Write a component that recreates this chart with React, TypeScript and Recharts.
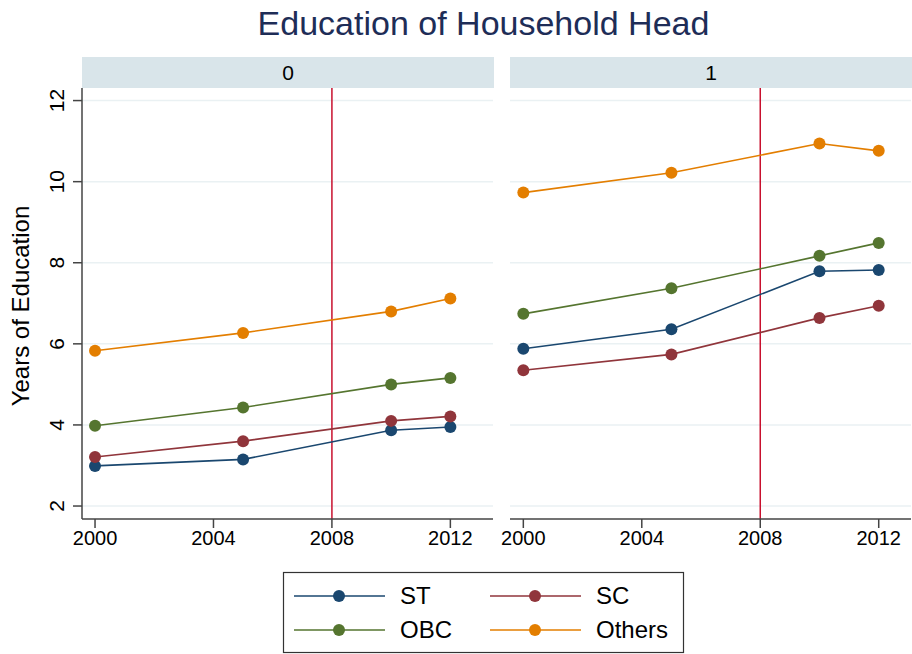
import React from 'react';
import { LineChart, Line, XAxis, YAxis, ReferenceLine } from 'recharts';

// years surveyed, and mean years of education by caste group
const years = [2000, 2005, 2010, 2012];
const seriesNames = ['ST', 'SC', 'OBC', 'Others'];
const seriesColors = ['#1a476f', '#90353b', '#55752f', '#e37e00'];

// panel "0"
const st0 = [2.99, 3.15, 3.87, 3.95];
const sc0 = [3.21, 3.6, 4.1, 4.21];
const obc0 = [3.98, 4.43, 5.0, 5.16];
const others0 = [5.83, 6.27, 6.8, 7.12];

// panel "1"
const st1 = [5.88, 6.36, 7.79, 7.82];
const sc1 = [5.35, 5.74, 6.64, 6.94];
const obc1 = [6.74, 7.37, 8.17, 8.49];
const others1 = [9.73, 10.22, 10.94, 10.76];

const panelLabels = ['0', '1'];
const xTicks = [2000, 2004, 2008, 2012];
const yTicks = [2, 4, 6, 8, 10, 12];
const policyYear = 2008;

const FONT = '"Liberation Sans", Arial, Helvetica, sans-serif';
const AXIS = '#444444';
const GRID = '#eaf1f3';
const HEADER = '#d9e5ea';

const buildRows = (cols: number[][]) =>
  years.map((year, i) => {
    const row: any = { year };
    seriesNames.forEach((name, s) => {
      row[name] = cols[s][i];
    });
    return row;
  });

// each panel's svg starts a bit left of its plot so tick labels are not clipped
const panels = [
  {
    label: panelLabels[0],
    rows: buildRows([st0, sc0, obc0, others0]),
    left: 0,
    width: 500,
    marginLeft: 0,
    right: 7,
    xDomain: [1999.56, 2013.44],
    showY: true
  },
  {
    label: panelLabels[1],
    rows: buildRows([st1, sc1, obc1, others1]),
    left: 486,
    width: 426,
    marginLeft: 24,
    right: 1,
    xDomain: [1999.55, 2013.09],
    showY: false
  }
];

const RotatedTick = ({ x, y, payload }: any) => (
  <text
    x={x}
    y={y}
    dy={-7}
    transform={`rotate(-90, ${x}, ${y})`}
    textAnchor="middle"
    fontSize={21}
    fontFamily={FONT}
    fill="#000"
  >
    {payload.value}
  </text>
);

function Panel({ rows, width, marginLeft, right, showY, xDomain }: any) {
  return (
    <LineChart width={width} height={560} data={rows} margin={{ top: 88, right, left: marginLeft, bottom: 0 }}>
      {yTicks.map((v) => (
        <ReferenceLine key={`g${v}`} y={v} stroke={GRID} strokeWidth={1.5} />
      ))}
      <XAxis
        dataKey="year"
        type="number"
        domain={xDomain}
        allowDataOverflow
        ticks={xTicks}
        interval={0}
        height={41}
        tickSize={9}
        tickMargin={3}
        stroke={AXIS}
        strokeWidth={1.5}
        tick={{ fill: '#000', fontSize: 20, fontFamily: FONT }}
      />
      <YAxis
        type="number"
        domain={[1.68, 12.31]}
        allowDataOverflow
        ticks={yTicks}
        interval={0}
        width={82}
        hide={!showY}
        tickSize={9}
        tickMargin={2}
        stroke={AXIS}
        strokeWidth={1.5}
        tick={<RotatedTick />}
      />
      <ReferenceLine x={policyYear} stroke="#c8102e" strokeWidth={1.5} />
      {seriesNames.map((name, i) => (
        <Line
          key={name}
          type="linear"
          dataKey={name}
          stroke={seriesColors[i]}
          strokeWidth={1.6}
          dot={{ r: 6, fill: seriesColors[i], stroke: 'none' }}
          isAnimationActive={false}
        />
      ))}
    </LineChart>
  );
}

export default function App() {
  const headerX = [82, 510];
  const headerW = [412, 402];
  return (
    <div style={{ position: 'absolute', left: 0, top: 0, width: 912, height: 654, background: '#fff', overflow: 'hidden' }}>
      {panels.map((p) => (
        <div key={p.label} style={{ position: 'absolute', left: p.left, top: 0 }}>
          <Panel {...p} />
        </div>
      ))}
      <svg width={912} height={654} style={{ position: 'absolute', left: 0, top: 0, pointerEvents: 'none' }}>
        <text x={483.5} y={35} textAnchor="middle" fontSize={34} fontFamily={FONT} fill="#1e2d57">
          Education of Household Head
        </text>
        {panels.map((p, i) => (
          <g key={p.label}>
            <rect x={headerX[i]} y={57} width={headerW[i]} height={31} fill={HEADER} />
            <text x={headerX[i] + headerW[i] / 2} y={80} textAnchor="middle" fontSize={21} fontFamily={FONT} fill="#000">
              {p.label}
            </text>
          </g>
        ))}
        <text
          x={29}
          y={306}
          transform="rotate(-90, 29, 306)"
          textAnchor="middle"
          fontSize={24}
          fontFamily={FONT}
          fill="#000"
        >
          Years of Education
        </text>
        <g transform="translate(283, 572)">
          <rect x={0.5} y={0.5} width={400} height={80} fill="#fff" stroke="#333" strokeWidth={1.2} />
          {seriesNames.map((name, i) => {
            const ox = (i % 2) * 196;
            const oy = Math.floor(i / 2) * 34 + 24;
            return (
              <g key={name}>
                <line x1={ox + 11} x2={ox + 102} y1={oy} y2={oy} stroke={seriesColors[i]} strokeWidth={1.6} />
                <circle cx={ox + 56} cy={oy} r={6} fill={seriesColors[i]} />
                <text x={ox + 117} y={oy + 8} fontSize={24} fontFamily={FONT} fill="#000">
                  {name}
                </text>
              </g>
            );
          })}
        </g>
      </svg>
    </div>
  );
}
